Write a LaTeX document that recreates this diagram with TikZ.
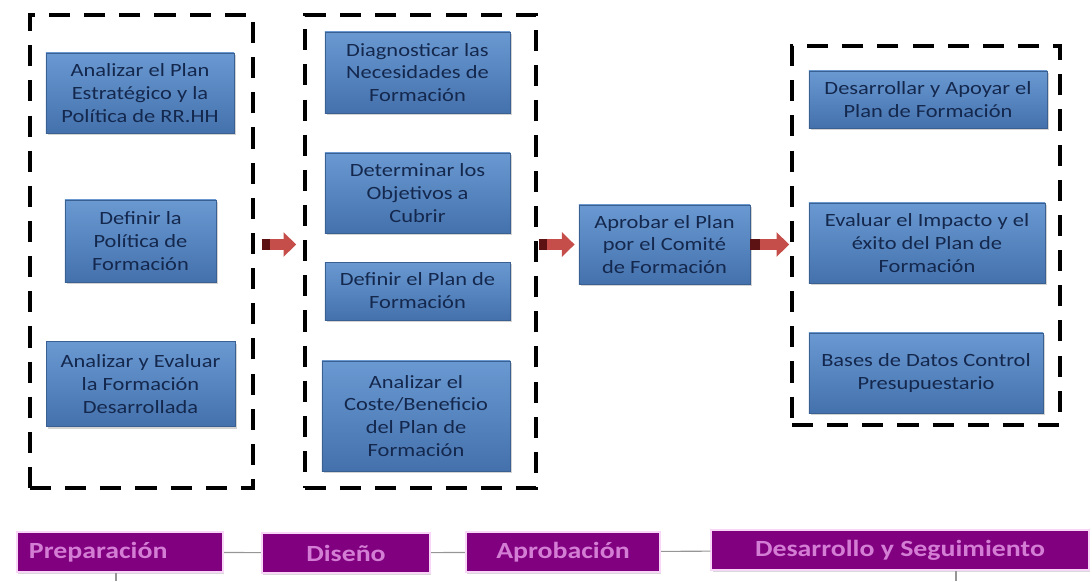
\documentclass[tikz,border=0pt]{standalone}
\usepackage{fontspec}
\setmainfont{Carlito}[FakeStretch=1.2]
\usetikzlibrary{positioning,arrows.meta,shadows,fit}
\definecolor{colornodetop} {RGB}{106,153,210}
\definecolor{colornodebot} {RGB}{68 ,113,172}
\definecolor{colorborder}  {RGB}{58 ,95 ,145}
\definecolor{colortext}    {RGB}{20 ,40 ,78 }
\definecolor{colorfase}    {RGB}{128,0  ,128}
\definecolor{colorfasetext}{RGB}{212,125,212}
\definecolor{colorglow}    {RGB}{248,214,248}
\definecolor{colorflecha}  {RGB}{198,78 ,74 }
\definecolor{colorcola}    {RGB}{92 ,18 ,18 }
\definecolor{colorlinea}   {RGB}{150,150,150}

\begin{document}
\begin{tikzpicture}[
    x=0.025cm, y=-0.025cm,
    base/.style={text=colortext,font={\fontsize{13.3}{16.3}\selectfont},inner sep=2pt,align=center,rectangle,
        top color=colornodetop,bottom color=colornodebot,draw=colorborder,
        drop shadow={opacity=0.35,shadow xshift=1.5pt,shadow yshift=-1.5pt}},
    grupo/.style={draw=black,line width=2.3pt,dash pattern=on 15pt off 10pt,inner sep=0pt},
    fase/.style={fill=colorfase,draw=colorglow,line width=1.5pt,text=colorfasetext,
        font={\fontsize{16.5}{19}\selectfont\bfseries},minimum height=1cm,inner sep=0pt,
        drop shadow={opacity=0.3,shadow xshift=1pt,shadow yshift=-1.5pt}},
    flecha/.style={line width=8pt,colorflecha,-{Triangle[length=9pt,width=17pt]}},
    cola/.style={line width=8pt,colorcola},
    linea/.style={draw=colorlinea,line width=0.8pt},
]
    \useasboundingbox (0,0) rectangle (1092,581);

    % preparacion
    \node[grupo,fit={(30,15) (253,488)}] (preparacion) {};
    \node[base,minimum width=4.7cm,minimum height=2cm]    at (140,93)    (analizarPlan)      {Analizar el Plan\\Estratégico y la\\Política de RR.HH};
    \node[base,minimum width=3.78cm,minimum height=2.05cm] at (140.5,241) (definirPolitica)  {Definir la\\Política de\\Formación};
    \node[base,minimum width=4.72cm,minimum height=2.12cm] at (140.5,384) (analizarFormacion) {Analizar y Evaluar\\la Formación\\Desarrollada};

    % diseno
    \node[grupo,fit={(305,15) (536,488)}] (diseno) {};
    \node[base,minimum width=4.63cm,minimum height=2.03cm] at (417.5,72.5) (diagnosticar)   {Diagnosticar las\\Necesidades de\\Formación};
    \node[base,minimum width=4.63cm,minimum height=2cm]    at (417.5,193)  (objetivos)      {Determinar los\\Objetivos a\\Cubrir};
    \node[base,minimum width=4.63cm,minimum height=1.45cm] at (417.5,291)  (definirPlan)    {Definir el Plan de\\Formación};
    \node[base,minimum width=4.7cm,minimum height=2.75cm]  at (416,416)    (costeBeneficio) {Analizar el\\Coste/Beneficio\\del Plan de\\Formación};

    % aprobacion
    \node[base,minimum width=4.28cm,minimum height=1.98cm] at (664.5,244.5) (aprobar) {Aprobar el Plan\\por el Comité\\de Formación};

    % desarrollo
    \node[grupo,fit={(792,46) (1060,425)}] (desarrollo) {};
    \node[base,minimum width=5.95cm,minimum height=1.43cm] at (928,99.5) (apoyar)     {Desarrollar y Apoyar el\\Plan de Formación};
    \node[base,minimum width=5.9cm,minimum height=2cm]     at (927,243)  (evaluar)    {Evaluar el Impacto y el\\éxito del Plan de\\Formación};
    \node[base,minimum width=5.85cm,minimum height=2cm]    at (926,373)  (basesDatos) {Bases de Datos Control\\Presupuestario};

    % flechas
    \draw[flecha,shorten <=0.18cm,shorten >=0.18cm] (preparacion.east |- aprobar) -- (diseno.west |- aprobar);
    \draw[cola,shorten <=0.18cm] (preparacion.east |- aprobar) -- ++(15,0);
    \draw[flecha,shorten <=0.03cm,shorten >=0.1cm] (diseno.east |- aprobar) -- (aprobar.west);
    \draw[cola,shorten <=0.03cm] (diseno.east |- aprobar) -- ++(9,0);
    \draw[flecha,shorten >=0.03cm] (aprobar.east) -- (desarrollo.west |- aprobar);
    \draw[cola] (aprobar.east) -- ++(10,0);

    % fases
    \node[fase,minimum width=5.15cm,text width=4.55cm,align=left] at (120,552) (prepFase)       {Preparación};
    \node[fase,minimum width=4.2cm]                               at (346,553) (disenoFase)     {Diseño};
    \node[fase,minimum width=4.85cm]                              at (563,552) (aprobFase)      {Aprobación};
    \node[fase,minimum width=9.43cm]                              at (900,550) (desarrolloFase) {Desarrollo y Seguimiento};

    \draw[linea] (prepFase) -- (disenoFase);
    \draw[linea] (disenoFase) -- (aprobFase);
    \draw[linea] (aprobFase) -- (desarrolloFase);
    \coordinate (finA) at (116,581);
    \coordinate (finB) at (956,581);
    \draw[linea] (prepFase.south -| finA) -- (finA);
    \draw[linea] (desarrolloFase.south -| finB) -- (finB);

\end{tikzpicture}
\end{document}
